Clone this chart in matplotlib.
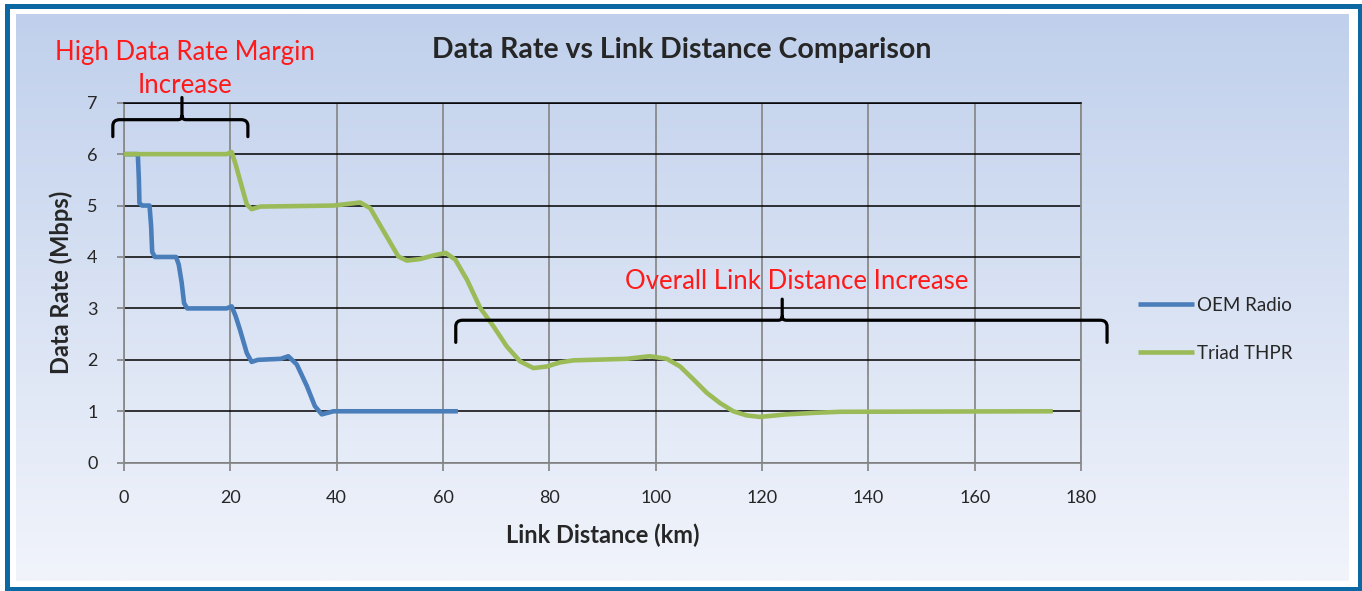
import numpy as np
import matplotlib
matplotlib.use("Agg")
import matplotlib.pyplot as plt
from matplotlib.path import Path
from matplotlib.patches import PathPatch, Rectangle

# ---------------- data ----------------
oem_km = [0, 2.6, 2.8, 2.9, 3.4, 4.8, 5.1, 5.3, 5.8, 9.8, 10.3, 10.85, 11.3, 11.9,
          19.3, 20.25, 21.0, 21.8, 23.1, 24.0, 25.2, 29.5, 30.9, 32.5, 34.4, 35.9,
          37.2, 39.4, 62.8]
oem_rate = [6, 6, 5.5, 5.05, 5.0, 5.0, 4.6, 4.1, 4.0, 4.0, 3.85, 3.5, 3.1, 3.0,
            3.0, 3.04, 2.85, 2.59, 2.13, 1.96, 2.0, 2.02, 2.07, 1.91, 1.49, 1.10,
            0.94, 1.0, 1.0]

triad_km = [0, 19.3, 20.25, 21.0, 21.8, 23.1, 24.0, 25.6,
            39.4, 42.0, 44.4, 46.3, 49.4, 51.6, 53.2, 55.7, 58.2, 60.5,
            62.3, 64.5, 67.0, 69.5, 72.0, 74.5, 77.0, 79.5, 82.0, 84.5,
            94.5, 98.9, 102.1, 104.6, 107.1, 109.6, 112.1, 114.6, 117.1, 119.6,
            124.6, 130.0, 134.7, 174.7]
triad_rate = [6, 6, 6.04, 5.8, 5.50, 5.02, 4.93, 4.98,
              5.0, 5.03, 5.06, 4.95, 4.40, 4.01, 3.93, 3.96, 4.03, 4.08,
              3.95, 3.56, 3.01, 2.65, 2.26, 1.97, 1.84, 1.87, 1.95, 1.99,
              2.02, 2.07, 2.02, 1.87, 1.62, 1.36, 1.16, 1.0, 0.92, 0.89,
              0.94, 0.97, 0.99, 1.0]

series_names = ["OEM Radio", "Triad THPR"]
x_ticks = [0, 20, 40, 60, 80, 100, 120, 140, 160, 180]
y_ticks = [0, 1, 2, 3, 4, 5, 6, 7]

title = "Data Rate vs Link Distance Comparison"
x_label = "Link Distance (km)"
y_label = "Data Rate (Mbps)"
note_margin = "High Data Rate Margin\nIncrease"
note_distance = "Overall Link Distance Increase"

# ---------------- style ----------------
plt.rcParams['font.family'] = ['Lato', 'DejaVu Sans']
BLUE = '#4a7ebb'
GREEN = '#9bbb59'
RED = '#ff1a1a'
TXT = '#262626'

W, H = 1362, 591
fig = plt.figure(figsize=(W / 100, H / 100), dpi=100)
fig.patch.set_facecolor('white')

# background panel with gradient + blue frame (pixel coordinates)
bg = fig.add_axes([0, 0, 1, 1], zorder=-5)
bg.set_xlim(0, W)
bg.set_ylim(H, 0)
bg.axis('off')
top_c = np.array([192, 208, 236]) / 255.0
bot_c = np.array([241, 244, 251]) / 255.0
t = np.linspace(0, 1, 256)[:, None]
grad = (top_c[None, :] * (1 - t) + bot_c[None, :] * t)[:, None, :]
bg.imshow(grad, extent=[16, 1349, 581, 14], aspect='auto', interpolation='bilinear')
bg.add_patch(Rectangle((7, 5.5), 1352.5, 583, fill=False, edgecolor='#0b68a3',
                       linewidth=3.6))

# main axes
ax = fig.add_axes([124 / W, 1 - 462.7 / H, (1081 - 124) / W, (462.7 - 102.7) / H])
ax.set_facecolor('none')
ax.set_xlim(x_ticks[0], x_ticks[-1])
ax.set_ylim(y_ticks[0], y_ticks[-1])
ax.set_xticks(x_ticks)
ax.set_yticks(y_ticks)
ax.grid(axis='y', color='black', linewidth=1.1, zorder=1)
ax.grid(axis='x', color='#8a8a8a', linewidth=1.3, zorder=1)
ax.set_axisbelow(True)
for s in ['left', 'bottom', 'right']:
    ax.spines[s].set_color('#8a8a8a')
    ax.spines[s].set_linewidth(1.3)
ax.spines['top'].set_color('black')
ax.spines['top'].set_linewidth(1.1)
ax.tick_params(axis='x', direction='out', length=6, width=1.3, color='#8a8a8a',
               labelsize=13, labelcolor=TXT, pad=14)
ax.tick_params(axis='y', direction='out', length=5, width=1.3, color='#8a8a8a',
               labelsize=13, labelcolor=TXT, pad=14)

ax.plot(oem_km, oem_rate, color=BLUE, linewidth=3.3, solid_joinstyle='round',
        solid_capstyle='butt', zorder=3, label=series_names[0])
ax.plot(triad_km, triad_rate, color=GREEN, linewidth=3.3, solid_joinstyle='round',
        solid_capstyle='butt', zorder=3, label=series_names[1])

ax.set_xlabel(x_label, fontsize=17, fontweight='bold', color=TXT, labelpad=12)
ax.set_ylabel(y_label, fontsize=17, fontweight='bold', color=TXT, labelpad=10)
fig.text(682 / W, 1 - 50 / H, title, ha='center', va='center', fontsize=20.5,
         fontweight='bold', color=TXT)

leg = ax.legend(loc='center left', bbox_to_anchor=(1138 / W, 1 - 329.5 / H),
                bbox_transform=fig.transFigure, frameon=False, fontsize=13.5,
                handlelength=3.0, handletextpad=0.15, labelspacing=1.65,
                borderpad=0, borderaxespad=0)
for txt in leg.get_texts():
    txt.set_color(TXT)


# ---------------- annotation braces ----------------
def brace(x0, x1, xm, ybase, yend, ytop, rx, ry):
    verts = [(x0, yend), (x0, ybase - ry), (x0, ybase), (x0 + rx, ybase),
             (xm - rx * 0.6, ybase), (xm, ybase), (xm, ybase + ry * 0.6), (xm, ytop),
             (xm, ybase + ry * 0.6), (xm, ybase), (xm + rx * 0.6, ybase),
             (x1 - rx, ybase), (x1, ybase), (x1, ybase - ry), (x1, yend)]
    codes = [Path.MOVETO, Path.LINETO, Path.CURVE3, Path.CURVE3,
             Path.LINETO, Path.CURVE3, Path.CURVE3, Path.LINETO,
             Path.MOVETO, Path.CURVE3, Path.CURVE3,
             Path.LINETO, Path.CURVE3, Path.CURVE3, Path.LINETO]
    p = PathPatch(Path(verts, codes), fill=False, edgecolor='black', linewidth=2.3,
                  transform=ax.transData, clip_on=False, zorder=5,
                  capstyle='round', joinstyle='round')
    ax.add_patch(p)

brace(-2.1, 23.3, 10.9, 6.67, 6.34, 7.10, 1.3, 0.12)
brace(62.4, 184.9, 123.8, 2.77, 2.34, 3.18, 1.3, 0.12)

ax.text(11.5, 7.66, note_margin, ha='center', va='center', fontsize=18.5,
        color=RED, linespacing=1.4, clip_on=False)
ax.text(126.6, 3.52, note_distance, ha='center', va='center', fontsize=18.5,
        color=RED, clip_on=False)

fig.savefig('out.png', dpi=100)
